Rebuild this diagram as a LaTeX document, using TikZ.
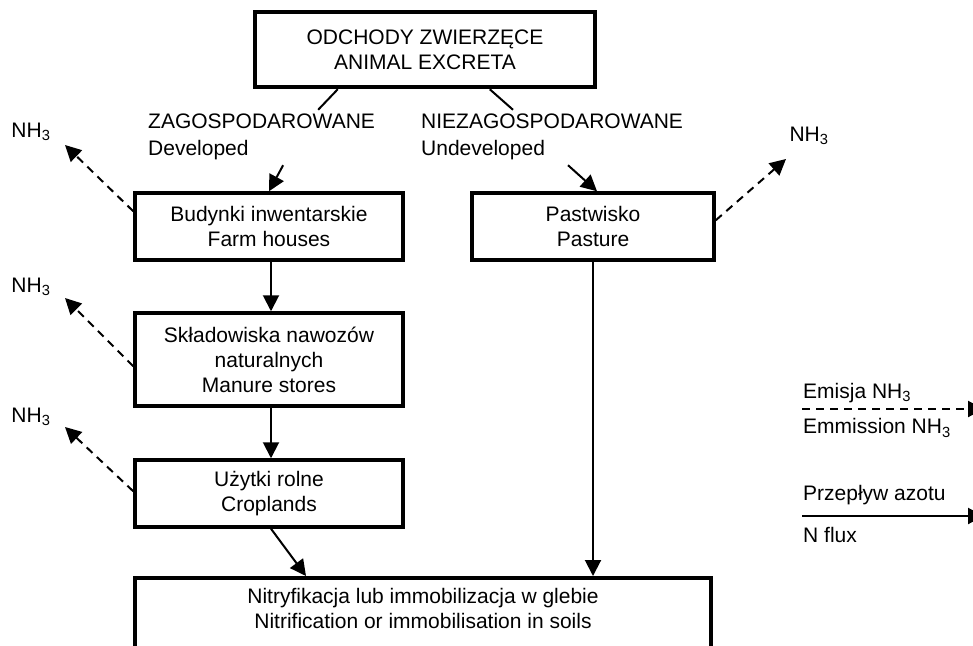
\documentclass[tikz,border=0pt]{standalone}
\usepackage{fontspec}
\setmainfont{Liberation Sans}
\usetikzlibrary{arrows.meta, calc, positioning}

\begin{document}
\begin{tikzpicture}[x=1pt, y=-1pt]
    \tikzstyle{block} = [draw, line width=3.5pt, align=center, inner sep=0pt,
        font=\fontsize{21}{25}\selectfont]
    \tikzstyle{lbl} = [align=left, inner sep=0pt, font=\fontsize{21}{27}\selectfont]
    \tikzstyle{flux} = [line width=2pt, -{Triangle[length=16pt, width=16pt]}]
    \tikzstyle{emis} = [flux, dash pattern=on 8pt off 6pt]
    \def\nh{NH\textsubscript{3}}

    \useasboundingbox (0,0) rectangle (973,645);
    \clip (0,0) rectangle (973,645);

    % main chain
    \node (excreta) [block, line width=4.5pt, minimum width=340pt, minimum height=75pt]
        at (425,49.5) {ODCHODY ZWIERZĘCE\\ANIMAL EXCRETA};
    \node (dev) [lbl, anchor=west] at (148,137) {ZAGOSPODAROWANE\\Developed};
    \node (undev) [lbl, anchor=west] at (421,137) {NIEZAGOSPODAROWANE\\Undeveloped};

    \node (farm) [block, minimum width=268pt, minimum height=67pt]
        at (269,226.5) {Budynki inwentarskie\\Farm houses};
    \node (manure) [block, minimum width=268pt, minimum height=93pt]
        at (269,359.5) {Składowiska nawozów\\naturalnych\\Manure stores};
    \node (crop) [block, minimum width=268pt, minimum height=67pt]
        at (269,493.5) {Użytki rolne\\Croplands};
    \node (pasture) [block, minimum width=242pt, minimum height=67pt]
        at (593,226.5) {Pastwisko\\Pasture};
    \node (soil) [block, line width=4pt, minimum width=576pt, minimum height=110pt, text depth=50pt]
        at (423,633) {Nitryfikacja lub immobilizacja w glebie\\Nitrification or immobilisation in soils};

    % split of excreta
    \draw [line width=2pt] ($(excreta.south west)+(85,0)$) -- ($(dev.north east)+(-57,-4)$);
    \draw [line width=2pt] ($(excreta.south west)+(237,0)$) -- ($(undev.north west)+(92,-4)$);
    \draw [flux] ($(dev.south east)+(-92,5)$) -- (farm.north);
    \draw [flux] ($(undev.south west)+(147,5)$) -- ($(pasture.north)+(4,0)$);

    % nitrogen flow
    \draw [flux] ($(farm.south)+(2,0)$) -- ($(manure.north)+(2,0)$);
    \draw [flux] ($(manure.south)+(2,0)$) -- ($(crop.north)+(2,0)$);
    \draw [flux] ($(crop.south)+(2,0)$) -- ($(soil.north west)+(173,0)$);
    \draw [flux] (pasture.south) -- (pasture.south |- soil.north);

    % ammonia losses
    \node (nhA) [lbl] at (31,132) {\nh};
    \node (nhB) [lbl] at (31,287) {\nh};
    \node (nhC) [lbl] at (31,417) {\nh};
    \node (nhD) [lbl] at (809,136) {\nh};
    \coordinate (tipA) at (65,145);
    \coordinate (tipB) at (65,298);
    \coordinate (tipC) at (65,427);
    \coordinate (tipD) at (786,159);
    \draw [emis] ($(farm.north west)+(0,20)$) -- (tipA);
    \draw [emis] ($(manure.north west)+(0,55)$) -- (tipB);
    \draw [emis] ($(crop.north west)+(0,33)$) -- (tipC);
    \draw [emis] ($(pasture.north east)+(0,29)$) -- (tipD);

    % legend
    \node (legE) [lbl, anchor=west] at (803,393) {Emisja \nh};
    \node (legEe) [lbl, anchor=west] at (803,428) {Emmission \nh};
    \node (legN) [lbl, anchor=west] at (803,495) {Przepływ azotu};
    \node (legNe) [lbl, anchor=west] at (803,535) {N flux};
    \coordinate (emA) at (802,409);
    \coordinate (emB) at (984,409);
    \coordinate (flA) at (802,516);
    \coordinate (flB) at (984,516);
    \draw [emis] (emA) -- (emB);
    \draw [flux] (flA) -- (flB);
\end{tikzpicture}
\end{document}
